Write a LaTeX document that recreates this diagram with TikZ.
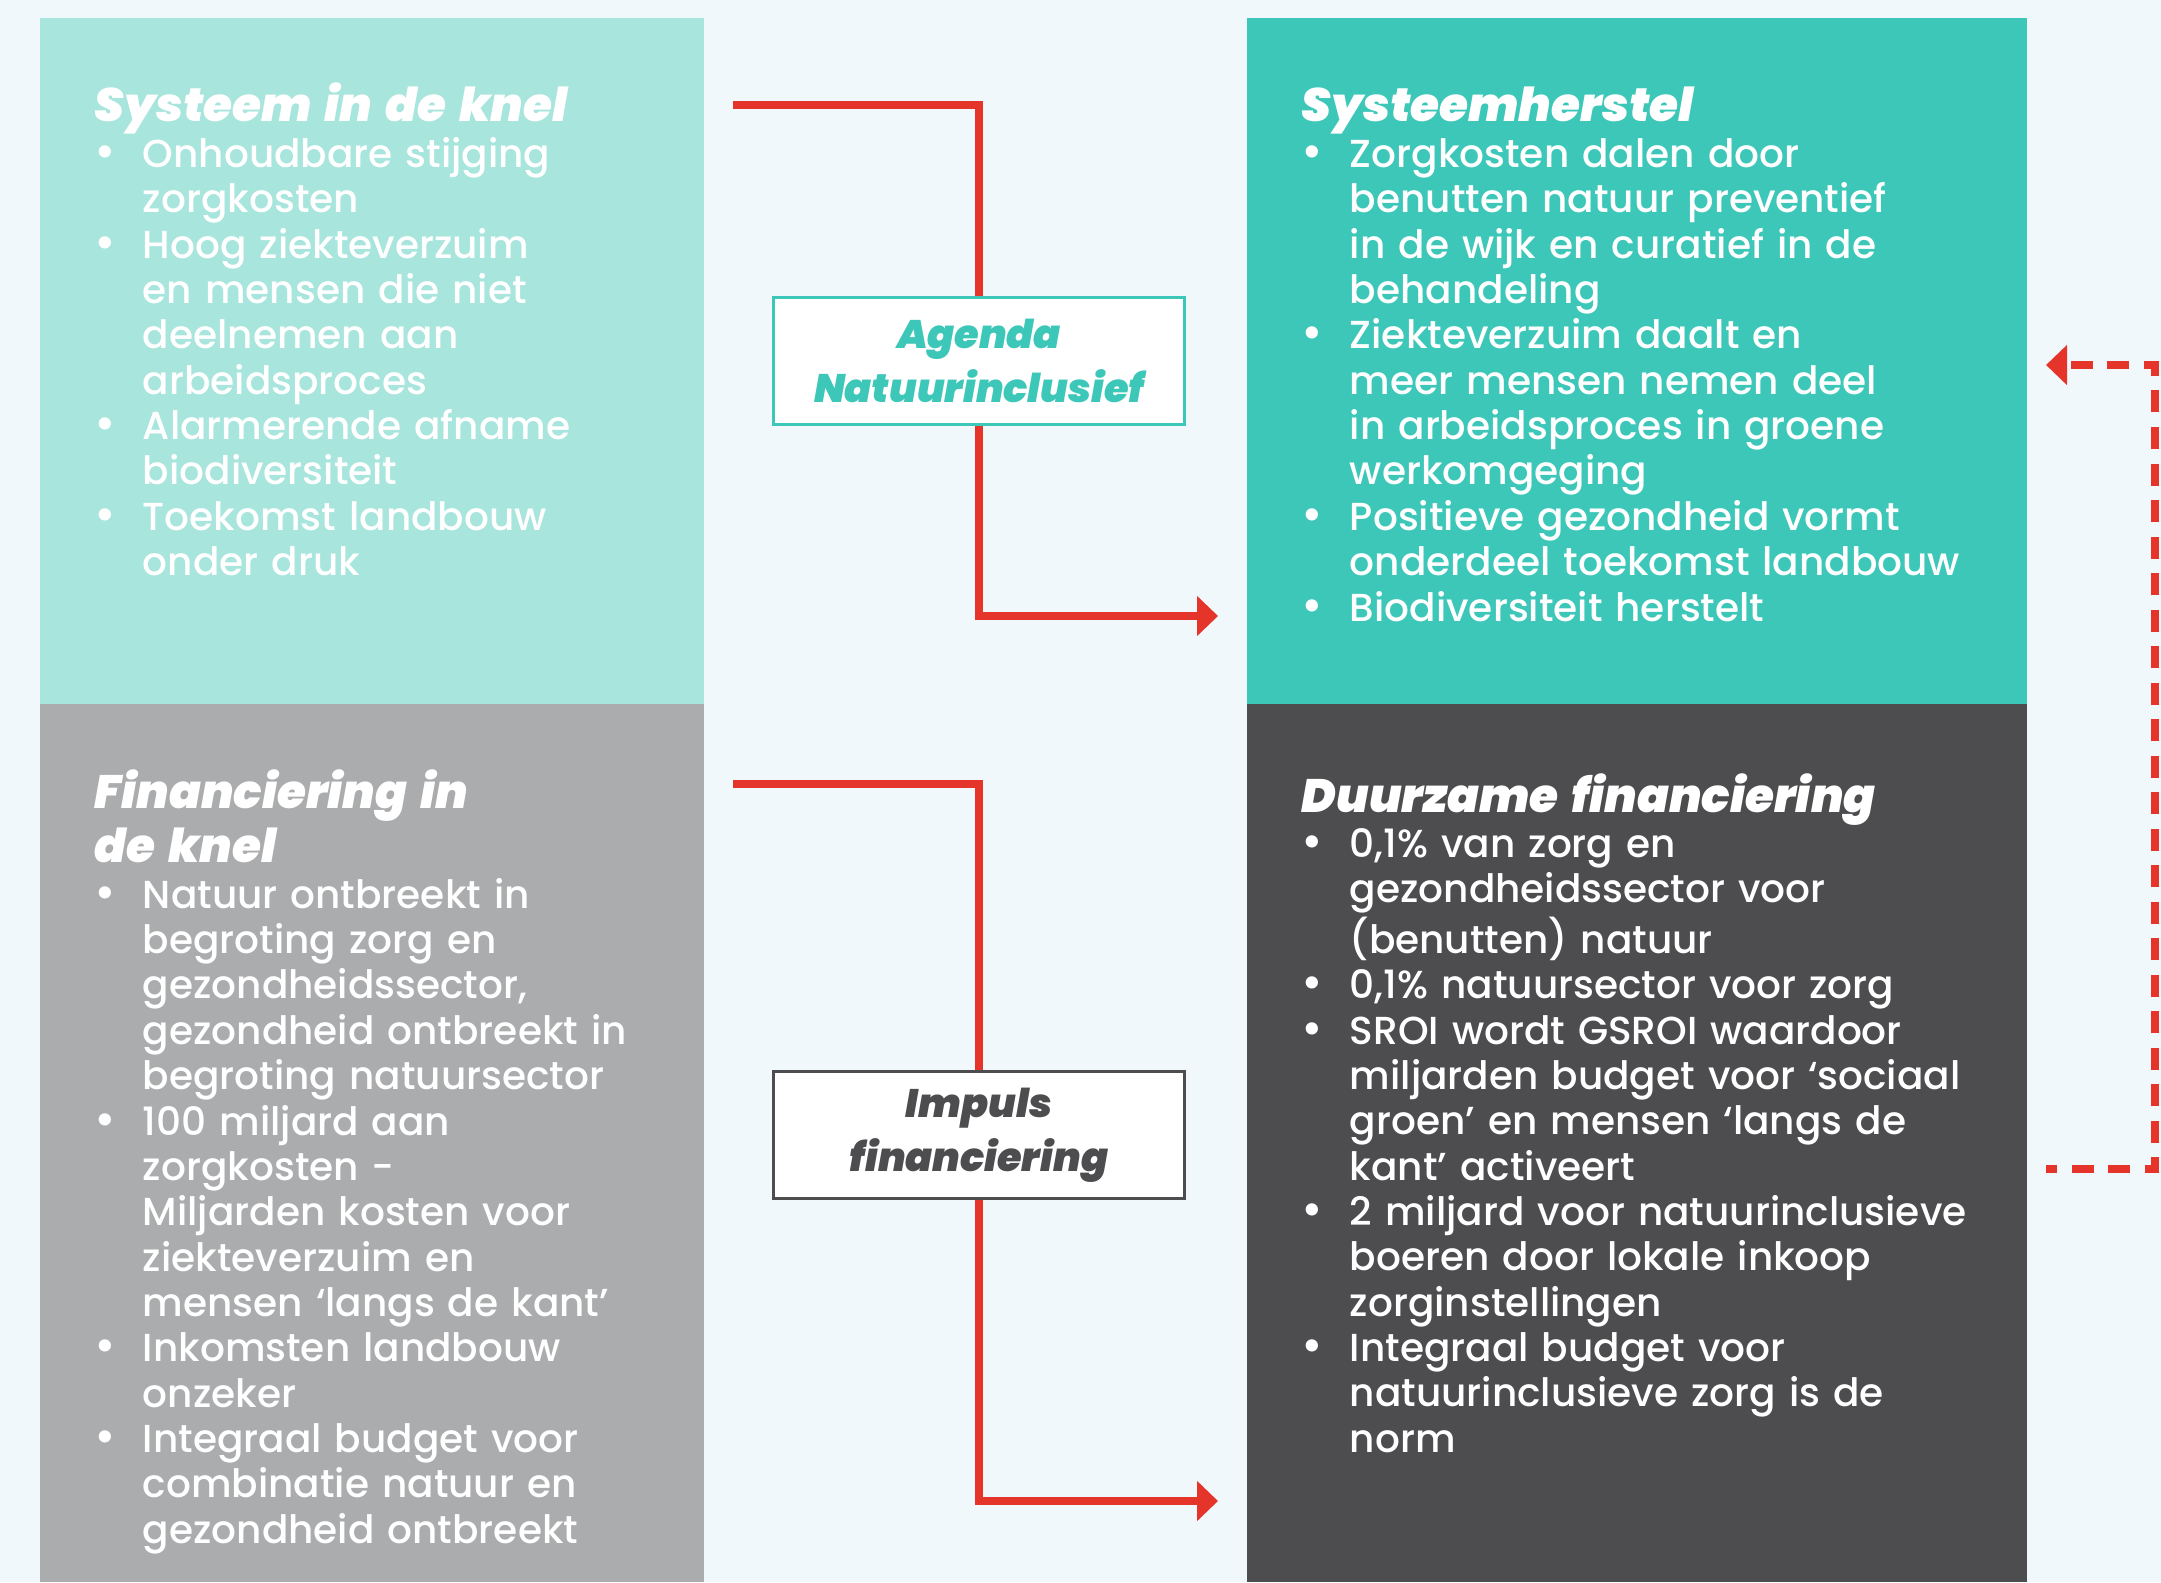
\documentclass[tikz,border=0pt]{standalone}
\usepackage{fontspec}
\usepackage{enumitem}
\usetikzlibrary{arrows.meta}

\IfFontExistsTF{Poppins Medium}
  {\setmainfont{Poppins Medium}}
  {\setmainfont{Poppins}}
\IfFontExistsTF{Poppins Black Italic}
  {\newfontfamily\headfont{Poppins Black Italic}}
  {\newcommand{\headfont}{\bfseries\itshape}}

\definecolor{pagebg}{HTML}{F0F8FB}
\definecolor{mintlight}{HTML}{A8E5DD}
\definecolor{mint}{HTML}{3DC7B9}
\definecolor{greylight}{HTML}{ABACAE}
\definecolor{greydark}{HTML}{4D4C4F}
\definecolor{flowred}{HTML}{E5352B}

\newcommand{\panelhead}[1]{{\headfont\fontsize{13.3pt}{15.6pt}\selectfont #1\par}}
\newenvironment{panellist}
  {\begin{itemize}[nosep, leftmargin=13.7pt, labelindent=0pt, labelwidth=6.4pt, labelsep=7.3pt, align=left,
     label={\rlap{\fontsize{13.3pt}{13pt}\selectfont\textbullet}}]}
  {\end{itemize}}

\tikzset{
  paneltext/.style={anchor=base west, inner sep=0pt, align=left, text=white,
    font=\fontsize{11.1pt}{12.9pt}\selectfont},
  flow/.style={flowred, line width=0.075cm},
  flowtip/.style={flow, -{Triangle[length=0.21cm, width=0.39cm]}},
  loopback/.style={flowtip, dash pattern=on 0.22cm off 0.145cm, dash phase=0.11cm},
  stepbox/.style={draw, line width=0.035cm, fill=white, minimum width=4.11cm,
    minimum height=1.27cm, inner sep=0pt, align=center,
    font=\headfont\fontsize{11.3pt}{15.4pt}\selectfont}
}

\begin{document}
\begin{tikzpicture}[x=0.01cm, y=-0.01cm]
% background and panels
\fill[pagebg] (0,0) rectangle (2161,1582);
\fill[mintlight] (40,18) rectangle (704,704);
\fill[greylight] (40,704) rectangle (704,1582);
\fill[mint] (1247,18) rectangle (2027,704);
\fill[greydark] (1247,704) rectangle (2027,1582);

% panel texts
\node[paneltext, text width=6.0cm] (sik) at (94,122) {\panelhead{Systeem in de knel}
\begin{panellist}
\item Onhoudbare stijging\\zorgkosten
\item Hoog ziekteverzuim\\en mensen die niet\\deelnemen aan\\arbeidsproces
\item Alarmerende afname\\biodiversiteit
\item Toekomst landbouw\\onder druk
\end{panellist}};

\node[paneltext, text width=7.1cm] (sh) at (1301,122) {\panelhead{Systeemherstel}
\begin{panellist}
\item Zorgkosten dalen door\\benutten natuur preventief\\in de wijk en curatief in de\\behandeling
\item Ziekteverzuim daalt en\\meer mensen nemen deel\\in arbeidsproces in groene\\werkomgeging
\item Positieve gezondheid vormt\\onderdeel toekomst landbouw
\item Biodiversiteit herstelt
\end{panellist}};

\node[paneltext, text width=6.0cm] (fik) at (94,808) {\panelhead{Financiering in\\de knel}
\begin{panellist}
\item Natuur ontbreekt in\\begroting zorg en\\gezondheidssector,\\gezondheid ontbreekt in\\begroting natuursector
\item 100 miljard aan\\zorgkosten -\\Miljarden kosten voor\\ziekteverzuim en\\mensen ‘langs de kant’
\item Inkomsten landbouw\\onzeker
\item Integraal budget voor\\combinatie natuur en\\gezondheid ontbreekt
\end{panellist}};

\node[paneltext, text width=7.1cm] (df) at (1301,812) {\panelhead{Duurzame financiering}
\begin{panellist}
\item 0,1\% van zorg en\\gezondheidssector voor\\(benutten) natuur
\item 0,1\% natuursector voor zorg
\item SROI wordt GSROI waardoor\\miljarden budget voor ‘sociaal\\groen’ en mensen ‘langs de\\kant’ activeert
\item 2 miljard voor natuurinclusieve\\boeren door lokale inkoop\\zorginstellingen
\item Integraal budget voor\\natuurinclusieve zorg is de\\norm
\end{panellist}};

% connectors
\coordinate (sik-out) at (733,105);
\coordinate (sh-in) at (1218,616);
\coordinate (fik-out) at (733,784);
\coordinate (df-in) at (1218,1501);
\coordinate (df-out) at (2046,1169);
\coordinate (loop-turn) at (2155,760);
\coordinate (sh-back) at (2046,365);

\node[stepbox, draw=mint, text=mint] (agenda) at (979,361) {Agenda\\Natuurinclusief};
\node[stepbox, draw=greydark, text=greydark] (impuls) at (979,1135) {Impuls\\financiering};

\draw[flow] (sik-out) -| (agenda.north);
\draw[flowtip] (agenda.south) |- (sh-in);
\draw[flow] (fik-out) -| (impuls.north);
\draw[flowtip] (impuls.south) |- (df-in);
\draw[loopback] (df-out) -| (loop-turn) |- (sh-back);
\end{tikzpicture}
\end{document}
